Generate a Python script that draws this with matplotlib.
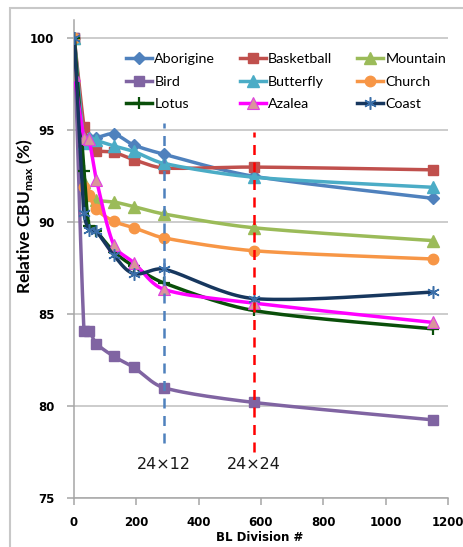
import numpy as np
import matplotlib
matplotlib.use("Agg")
import matplotlib.pyplot as plt
from matplotlib.lines import Line2D
from matplotlib.patches import Rectangle

plt.rcParams["mathtext.fontset"] = "custom"
plt.rcParams["mathtext.rm"] = "Lato"
plt.rcParams["mathtext.bf"] = "Lato:bold"

# BL division counts where CBU was measured
divisions = [1, 32, 48, 72, 128, 192, 288, 576, 1152]

# relative CBU_max (%) for each image
aborigine  = [100, 94.4, 94.6, 94.6, 94.8, 94.2, 93.7, 92.5, 91.3]
basketball = [100, 95.2, 94.3, 93.9, 93.8, 93.4, 92.95, 93.0, 92.85]
mountain   = [100, 92.2, 91.5, 91.2, 91.1, 90.85, 90.45, 89.7, 89.0]
bird       = [100, 84.1, 84.1, 83.4, 82.7, 82.1, 81.0, 80.2, 79.25]
butterfly  = [100, 94.3, 94.6, 94.45, 94.15, 93.85, 93.2, 92.45, 91.9]
church     = [100, 91.9, 91.5, 90.7, 90.05, 89.7, 89.15, 88.45, 88.0]
lotus      = [100, 92.8, 89.8, 89.5, 88.4, 87.6, 86.7, 85.2, 84.2]
azalea     = [98.0, 94.6, 94.5, 92.3, 88.75, 87.8, 86.35, 85.6, 84.55]
coast      = [100, 90.5, 89.6, 89.5, 88.2, 87.2, 87.45, 85.85, 86.2]

# marked configurations
marks = [288, 576]
mark_labels = ["24\u00d712", "24\u00d724"]

series = [
    ("Aborigine",  aborigine,  dict(color="#4F81BD", marker="D", ms=6)),
    ("Basketball", basketball, dict(color="#C0504D", marker="s", ms=7.5)),
    ("Mountain",   mountain,   dict(color="#9BBB59", marker="^", ms=8)),
    ("Bird",       bird,       dict(color="#8064A2", marker="s", ms=7.5)),
    ("Butterfly",  butterfly,  dict(color="#4BACC6", marker="^", ms=8)),
    ("Church",     church,     dict(color="#F79646", marker="o", ms=7.5)),
    ("Lotus",      lotus,      dict(color="#0A4F0A", marker="+", ms=8, mew=1.6)),
    ("Azalea",     azalea,     dict(color="#FF00FF", marker="^", ms=8, mfc="#D9959B", mec="#E040E0", mew=0.8)),
    ("Coast",      coast,      dict(color="#17375E", marker=(6, 2, 0), ms=9, mec="#3A6EA8", mew=1.1)),
]

XMAX, YMIN, YMAX = 1200, 75, 101
W_PX, H_PX = 374, 478


def smooth(x, y, n=24):
    # bezier smoothing in screen-like units; tangent length is capped by the
    # segment length so short steps next to steep drops don't loop
    x = np.asarray(x, float) / XMAX * W_PX
    y = np.asarray(y, float) / (YMAX - YMIN) * H_PX
    p = np.column_stack([x, y])
    p = np.vstack([p[0], p, p[-1]])
    t = np.linspace(0, 1, n)[:, None]
    out = []
    for i in range(1, len(p) - 2):
        p0, p1, p2, p3 = p[i - 1], p[i], p[i + 1], p[i + 2]
        seg_len = np.hypot(*(p2 - p1))
        d1, d2 = p2 - p0, p3 - p1
        n1, n2 = np.hypot(*d1), np.hypot(*d2)
        c1 = p1 + (d1 / n1 * min(n1 / 6, seg_len / 3) if n1 else 0)
        c2 = p2 - (d2 / n2 * min(n2 / 6, seg_len / 3) if n2 else 0)
        seg = ((1 - t) ** 3) * p1 + 3 * ((1 - t) ** 2) * t * c1 + 3 * (1 - t) * t ** 2 * c2 + t ** 3 * p2
        out.append(seg if i == 1 else seg[1:])
    out = np.vstack(out)
    return out[:, 0] / W_PX * XMAX, out[:, 1] / H_PX * (YMAX - YMIN)


fig = plt.figure(figsize=(4.64, 5.47), dpi=100)
fig.patch.set_facecolor("white")
ax = fig.add_axes([74 / 464, 1 - 498 / 547, 374 / 464, 478 / 547])

handles = []
for i, (name, vals, st) in enumerate(series):
    sx, sy = smooth(divisions, vals)
    ax.plot(sx, sy, color=st["color"], lw=2.5, zorder=3 + i, solid_capstyle="round")
    mk = dict(marker=st["marker"], ms=st["ms"],
              mfc=st.get("mfc", st["color"]), mec=st.get("mec", st["color"]),
              mew=st.get("mew", 1.0))
    ax.plot(divisions, vals, ls="none", zorder=3 + i, **mk)
    handles.append(Line2D([], [], color=st["color"], lw=2.5, **mk, label=name))

# dashed guides for the two configurations
ax.plot([marks[0], marks[0]], [78.0, 95.4], color="#4F81BD", lw=1.8, ls=(0, (4, 3)), zorder=20)
ax.plot([marks[1], marks[1]], [77.5, 94.9], color="#FF0000", lw=1.8, ls=(0, (4, 3)), zorder=20)
for xm, lab in zip(marks, mark_labels):
    ax.text(xm, 76.8, lab, ha="center", va="center", fontsize=11.5, color="#1a1a1a",
            family="DejaVu Sans")

ax.set_xlim(0, XMAX)
ax.set_ylim(YMIN, YMAX)
ax.set_xticks(np.arange(0, 1201, 200))
ax.set_yticks(np.arange(75, 101, 5))
ax.yaxis.grid(True, color="#BFBFBF", lw=1.1)
ax.set_axisbelow(True)
for s in ("top", "right"):
    ax.spines[s].set_visible(False)
for s in ("left", "bottom"):
    ax.spines[s].set_color("#A6A6A6")
    ax.spines[s].set_linewidth(1.1)
ax.tick_params(axis="both", length=5, width=1.1, color="#A6A6A6", pad=4)
ax.tick_params(axis="x", pad=8)
ax.tick_params(axis="y", pad=9)
for lab in ax.get_xticklabels() + ax.get_yticklabels():
    lab.set_fontweight("bold")
    lab.set_fontsize(8.5)
    lab.set_family("DejaVu Sans")

ax.set_ylabel("Relative CBU$_{\\mathbf{max}}$ (%)", fontsize=12.5, fontweight="bold", family="Lato")
ax.yaxis.set_label_coords(-0.105, 0.59)
ax.set_xlabel("BL Division #", fontsize=8.5, fontweight="bold", family="DejaVu Sans")
ax.xaxis.set_label_coords(0.497, -0.07)

# legend laid out row by row: reorder for column-major filling
order = [0, 3, 6, 1, 4, 7, 2, 5, 8]
leg = ax.legend([handles[k] for k in order], [handles[k].get_label() for k in order],
                ncol=3, loc="upper left", bbox_to_anchor=(0.125, 0.942), frameon=False,
                handlelength=1.8, handletextpad=0.15, columnspacing=1.75, labelspacing=0.72,
                borderaxespad=0, prop=dict(family="Lato", size=10.3))
leg.set_zorder(30)

# outer chart border
fig.add_artist(Rectangle((10 / 464, -0.1), 1.2, 1.1 - 8 / 547, transform=fig.transFigure,
                         fill=False, ec="#C8C8C8", lw=1.5))

fig.savefig("out.png", dpi=100)
